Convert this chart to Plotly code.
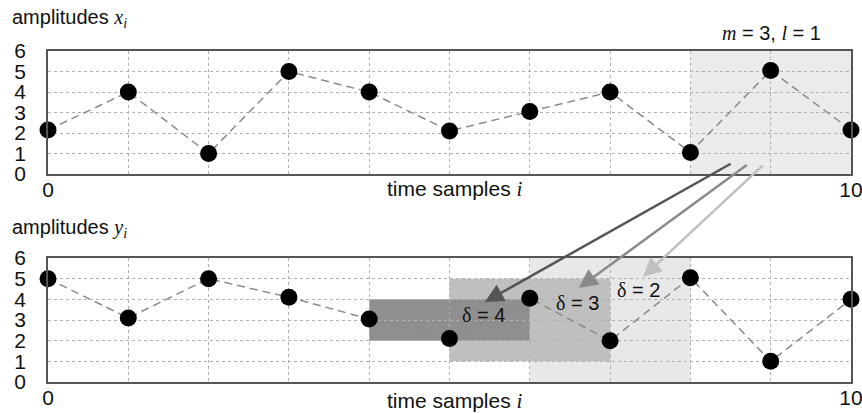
import plotly.graph_objects as go
from plotly.subplots import make_subplots

# ---- data ----
t = list(range(11))
x_vals = [2.15, 4, 1, 5, 4, 2.1, 3.05, 4, 1.05, 5.05, 2.15]
y_vals = [5, 3.1, 5, 4.1, 3.05, 2.1, 4.05, 2.0, 5.05, 1.0, 4.0]

# window in top series (x0, x1)
window = (8, 10)
# shifted windows in bottom series
rect_x0 = [6, 5, 4]
rect_x1 = [8, 7, 6]
rect_y0 = [0, 1, 2]
rect_y1 = [6, 5, 4]
rect_colors = ["#e8e8e8", "#bfbfbf", "#8f8f8f"]

# delta labels
delta_text = ["δ = 4", "δ = 3", "δ = 2"]
delta_x = [5.42, 6.59, 7.35]
delta_y = [3.24, 3.82, 4.45]

# arrows: tail in top-plot coords, head in bottom-plot coords
arrow_tail_x = [8.52, 8.72, 8.92]
arrow_tail_y = [0.54, 0.49, 0.49]
arrow_head_x = [5.44, 6.61, 7.41]
arrow_head_y = [3.87, 4.55, 5.08]
arrow_colors = ["#555555", "#8a8a8a", "#c0c0c0"]

W, H = 862, 413
ML, MR, MT, MB = 48, 11, 51, 31
dom_top = [0.6284, 1.0]
dom_bot = [0.0, 0.3746]

fig = make_subplots(rows=2, cols=1)

for row, vals in [(1, x_vals), (2, y_vals)]:
    fig.add_trace(go.Scatter(
        x=t, y=vals, mode="lines+markers",
        line=dict(color="#8a8a8a", width=1.5, dash="8px,5px"),
        marker=dict(color="black", size=17),
        cliponaxis=False, showlegend=False), row=row, col=1)

axis_font = dict(family="Liberation Sans, Arial", size=21, color="#111")
for ax in ["xaxis", "xaxis2"]:
    fig.layout[ax].update(
        range=[0, 10], tickvals=t,
        ticktext=[str(v) if v in (0, 10) else "" for v in t],
        showgrid=True, gridcolor="#b0b0b0", griddash="dot", gridwidth=1,
        showline=True, mirror=True, linecolor="#555555", linewidth=1.5,
        ticks="", tickfont=axis_font, zeroline=False, automargin=False,
        ticklabelstandoff=-4, ticklabeloverflow="allow")
for ax in ["yaxis", "yaxis2"]:
    fig.layout[ax].update(
        range=[0, 6], tickvals=list(range(7)),
        showgrid=True, gridcolor="#b0b0b0", griddash="dot", gridwidth=1,
        showline=True, mirror=True, linecolor="#555555", linewidth=1.5,
        ticks="", tickfont=axis_font, zeroline=False, ticklabelstandoff=16,
        automargin=False, ticklabeloverflow="allow")
fig.layout.yaxis.domain = dom_top
fig.layout.yaxis2.domain = dom_bot

# shaded window top
fig.add_shape(type="rect", x0=window[0], x1=window[1], y0=0, y1=6,
              xref="x", yref="y", fillcolor="#ebebeb", line_width=0, layer="below")
for x0, x1, y0, y1, c in zip(rect_x0, rect_x1, rect_y0, rect_y1, rect_colors):
    fig.add_shape(type="rect", x0=x0, x1=x1, y0=y0, y1=y1, xref="x2", yref="y2",
                  fillcolor=c, line_width=0, layer="below")

serif = "font-family:'Liberation Serif','DejaVu Serif',serif;font-style:italic"
txt_font = dict(family="Liberation Sans, Arial", size=20, color="#111")

def top_to_bottom_y(yv):
    paper = dom_top[0] + yv / 6 * (dom_top[1] - dom_top[0])
    return (paper - dom_bot[0]) / (dom_bot[1] - dom_bot[0]) * 6

for tx, ty, hx, hy, c in zip(arrow_tail_x, arrow_tail_y, arrow_head_x, arrow_head_y, arrow_colors):
    fig.add_annotation(x=hx, y=hy, ax=tx, ay=top_to_bottom_y(ty),
                       xref="x2", yref="y2", axref="x2", ayref="y2",
                       showarrow=True, arrowhead=2, arrowsize=1.5, arrowwidth=2.5,
                       arrowcolor=c, text="")

for s, dx, dy in zip(delta_text, delta_x, delta_y):
    fig.add_annotation(x=dx, y=dy, xref="x2", yref="y2", showarrow=False,
                       xanchor="center", yanchor="middle",
                       text=f"<span style=\"font-family:'Liberation Serif',serif\">δ</span> = {s.split('= ')[1]}",
                       font=txt_font)

def px_to_paper_y(py):
    return (H - MB - py) / (H - MT - MB)

def px_to_paper_x(px):
    return (px - ML) / (W - ML - MR)

fig.add_annotation(x=px_to_paper_x(10), y=px_to_paper_y(18), xref="paper", yref="paper",
                   xanchor="left", yanchor="middle", showarrow=False, font=txt_font,
                   text=f"amplitudes <span style=\"{serif}\">x</span><sub><span style=\"{serif}\">i</span></sub>")
fig.add_annotation(x=px_to_paper_x(10), y=px_to_paper_y(228), xref="paper", yref="paper",
                   xanchor="left", yanchor="middle", showarrow=False, font=txt_font,
                   text=f"amplitudes <span style=\"{serif}\">y</span><sub><span style=\"{serif}\">i</span></sub>")
fig.add_annotation(x=px_to_paper_x(771), y=px_to_paper_y(33), xref="paper", yref="paper",
                   xanchor="center", yanchor="middle", showarrow=False, font=txt_font,
                   text=f"<span style=\"{serif}\">m</span> = 3, <span style=\"{serif}\">l</span> = 1")
for py in (189, 401):
    fig.add_annotation(x=px_to_paper_x(455), y=px_to_paper_y(py), xref="paper", yref="paper",
                       xanchor="center", yanchor="middle", showarrow=False,
                       font=dict(family="Liberation Sans, Arial", size=21, color="#111"),
                       text=f"time samples <span style=\"{serif}\">i</span>")

fig.update_layout(width=W, height=H, margin=dict(l=ML, r=MR, t=MT, b=MB),
                  plot_bgcolor="white", paper_bgcolor="white")

fig.write_html("out.html")
